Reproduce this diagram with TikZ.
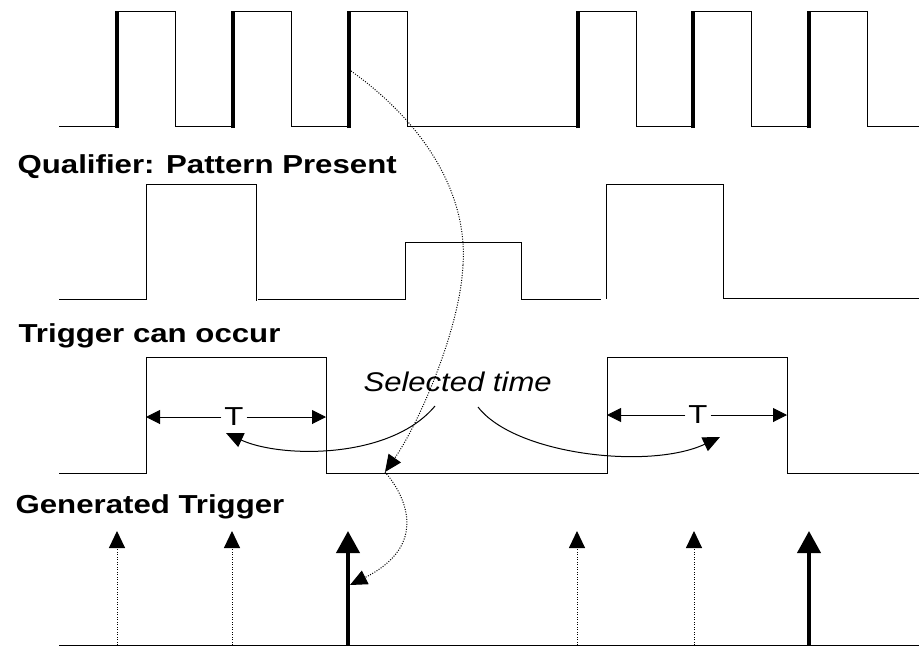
\documentclass[tikz,border=0pt]{standalone}
\usepackage{fontspec}
\setmainfont{Liberation Sans}
\usetikzlibrary{arrows.meta}

\begin{document}
\begin{tikzpicture}[x=1pt,y=-1pt,line width=1pt,
    lbl/.style={anchor=base west,inner sep=0pt,xscale=1.2,font=\fontsize{26}{30}\selectfont\bfseries},
    tlbl/.style={inner sep=2pt,xscale=1.2,font=\fontsize{26}{28}\selectfont},
    riseedge/.style={line width=4pt},
    dots/.style={dash pattern=on 1pt off 1.5pt},
    tipT/.style={-{Triangle[length=14pt,width=14pt]}},
    tipC/.style={-{Triangle[length=17pt,width=15pt]}},
    tipS/.style={-{Triangle[length=17pt,width=16pt]}},
    tipB/.style={-{Triangle[length=22pt,width=23pt]}}]
    \useasboundingbox (0,0) rectangle (919,646);

    % edges
    \draw (59,126) foreach \x in {117,233,349,578,693,809} { -- (\x,126) -- (\x,11) -- ++(58,0) -- ++(0,115) } -- (919,126);
    \foreach \x in {117,233,349,578,693,809} {
        \draw[riseedge] (\x,128) -- (\x,11);
    }

    % qualifier
    \node[lbl] (lblQual) at (17,173) {Qualifier: Pattern Present};
    \draw (59,299) -- (146,299) -- (146,184) -- (256,184) -- (256,301);
    \draw (258,299) -- (405,299) -- (405,242) -- (521,242) -- (521,299) -- (601,299);
    \draw (606,299) -- (606,184) -- (723,184) -- (723,298) -- (919,298);

    % trigger window
    \node[lbl] (lblCan) at (18,342) {Trigger can occur};
    \draw (59,473) -- (146,473) -- (146,357) -- (326,357) -- (326,473) -- (607,473) -- (607,357) -- (787,357) -- (787,473) -- (919,473);

    \node[tlbl] (tA) at (234,417) {T};
    \node[tlbl] (tB) at (698,415) {T};
    \coordinate (tAl) at (146,417);
    \coordinate (tAr) at (326,417);
    \coordinate (tBl) at (607,415);
    \coordinate (tBr) at (787,415);
    \draw[tipT] (tA) -- (tAl);
    \draw[tipT] (tA) -- (tAr);
    \draw[tipT] (tB) -- (tBl);
    \draw[tipT] (tB) -- (tBr);

    \node[anchor=base west,inner sep=0pt,xscale=1.15,font=\fontsize{27}{30}\selectfont\itshape] (sel) at (363,391) {Selected time};
    \coordinate (selL) at (435,406);
    \coordinate (selR) at (478,407);
    \coordinate (tAtip) at (226,433);
    \coordinate (tBtip) at (720,437);
    \draw[tipC] (selL) .. controls (390,460) and (280,458) .. (tAtip);
    \draw[tipC] (selR) .. controls (515,455) and (650,470) .. (tBtip);

    % selected edge path
    \coordinate (src) at (351,71);
    \coordinate (cross) at (385,472);
    \coordinate (hit) at (350,585);
    \draw[dots] (src) .. controls (420,120) and (468,190) .. (463,265);
    \draw[dots,tipC] (463,265) .. controls (460,330) and (418,425) .. (cross);
    \draw[dots,tipC] (cross) .. controls (405,495) and (430,545) .. (hit);

    % generated
    \node[lbl] (lblGen) at (15,513) {Generated Trigger};
    \draw (59,645) -- (919,645);
    \foreach \x in {117,232,577,694} {
        \draw[dots,tipS] (\x,645) -- (\x,531);
    }
    \foreach \x in {348,809} {
        \draw[line width=4pt,tipB] (\x,645) -- (\x,531);
    }
\end{tikzpicture}
\end{document}
